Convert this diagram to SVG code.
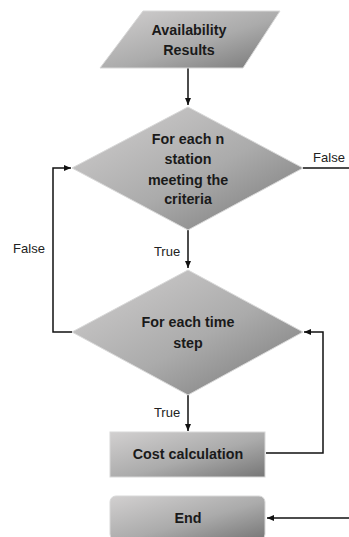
<svg xmlns="http://www.w3.org/2000/svg" width="349" height="537" viewBox="0 0 349 537">
<style>
.shape{fill:url(#g);stroke:#d8d8d8;stroke-width:1}
.t{font-family:"Liberation Sans",Arial,sans-serif;font-weight:bold;font-size:14.3px;fill:#1a1a1a;text-anchor:middle}
.l{font-family:"Liberation Sans",Arial,sans-serif;font-size:13px;fill:#222;text-anchor:middle}
.c{fill:none;stroke:#111;stroke-width:1.5}
</style>
<defs>
<linearGradient id="g" x1="0" y1="0" x2="1" y2="1">
<stop offset="0" stop-color="#d2d0d0"/>
<stop offset="0.55" stop-color="#ababab"/>
<stop offset="1" stop-color="#767676"/>
</linearGradient>
<marker id="a" markerWidth="8" markerHeight="8" refX="7" refY="4" orient="auto" markerUnits="userSpaceOnUse">
<path d="M0,1 L7,4 L0,7 Z" fill="#111"/>
</marker>
</defs>
<rect width="349" height="537" fill="#fff"/>
<g id="connectors">
<line class="c" x1="188" y1="68" x2="188" y2="105" marker-end="url(#a)"/>
<line class="c" x1="303" y1="168" x2="349" y2="168"/>
<line class="c" x1="188" y1="230" x2="188" y2="268" marker-end="url(#a)"/>
<polyline class="c" points="72,332 53,332 53,168 71,168" marker-end="url(#a)"/>
<line class="c" x1="188" y1="395" x2="188" y2="431" marker-end="url(#a)"/>
<polyline class="c" points="266,453 323,453 323,332 304,332" marker-end="url(#a)"/>
<line class="c" x1="349" y1="518" x2="267" y2="518" marker-end="url(#a)"/>
<text class="l" x="329" y="162">False</text>
<text class="l" x="29" y="253">False</text>
<text class="l" x="167" y="256">True</text>
<text class="l" x="167" y="417">True</text>
</g>
<g id="availability">
<polygon class="shape" points="143,11 280,11 243,68 100,68"/>
<text class="t" x="189" y="35">Availability</text>
<text class="t" x="189" y="55">Results</text>
</g>
<g id="station">
<polygon class="shape" points="188,107 303,168 188,230 72,168"/>
<text class="t" x="188" y="144">For each n</text>
<text class="t" x="188" y="164">station</text>
<text class="t" x="188" y="185">meeting the</text>
<text class="t" x="188" y="204">criteria</text>
</g>
<g id="timestep">
<polygon class="shape" points="188,270 303,332 188,395 72,332"/>
<text class="t" x="188" y="327">For each time</text>
<text class="t" x="188" y="348">step</text>
</g>
<g id="cost">
<rect class="shape" x="110" y="432" width="155" height="45"/>
<text class="t" x="188" y="459">Cost calculation</text>
</g>
<g id="end">
<rect class="shape" x="110" y="496" width="155" height="44" rx="6"/>
<text class="t" x="188" y="523">End</text>
</g>
</svg>
